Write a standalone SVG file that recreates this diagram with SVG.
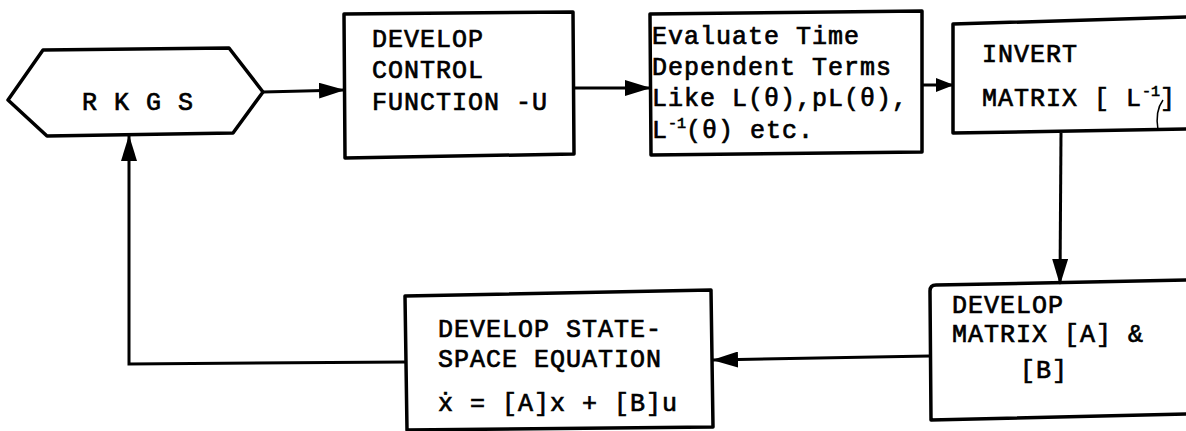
<svg xmlns="http://www.w3.org/2000/svg" width="1186" height="431" viewBox="0 0 1186 431">
  <style>
    .box { fill: none; stroke: #000; stroke-width: 3.5; stroke-linejoin: round; }
    .wire { fill: none; stroke: #000; stroke-width: 3; }
    .lbl { font-family: "Liberation Mono", "Courier New", "DejaVu Sans Mono", monospace; font-size: 25px; letter-spacing: 1px; fill: #000; stroke: #000; stroke-width: 0.7px; }
    .sup { font-size: 15px; letter-spacing: 0; }
  </style>
  <defs>
    <marker id="arrow" viewBox="0 0 26 16" refX="25" refY="8" markerWidth="26" markerHeight="16" markerUnits="userSpaceOnUse" orient="auto">
      <path d="M0,0 L26,8 L0,16 Z" fill="#000"/>
    </marker>
    <marker id="arrow-sm" viewBox="0 0 18 14" refX="17" refY="7" markerWidth="18" markerHeight="14" markerUnits="userSpaceOnUse" orient="auto">
      <path d="M0,0 L18,7 L0,14 Z" fill="#000"/>
    </marker>
  </defs>

  <!-- connectors -->
  <g id="connectors">
    <path class="wire" d="M263,92 L344,90" marker-end="url(#arrow)"/>
    <path class="wire" d="M574,88 L650,88" marker-end="url(#arrow)"/>
    <path class="wire" d="M922,85 L953,85" marker-end="url(#arrow-sm)"/>
    <path class="wire" d="M1061,133 L1060,284" marker-end="url(#arrow)"/>
    <path class="wire" d="M930,356 L713,360" marker-end="url(#arrow)"/>
    <path class="wire" d="M406,362 L129,364 L129,136" marker-end="url(#arrow)"/>
  </g>

  <!-- start / loop node -->
  <g id="rkgs">
    <path class="box" d="M8,100 L43,50 L229,48 L263,92 L233,133 L47,136 Z"/>
    <text class="lbl" x="82" y="110">R K G S</text>
  </g>

  <g id="control-function">
    <path class="box" d="M344,14 L573,12 L574,154 L345,158 Z"/>
    <text class="lbl" x="372" y="47">DEVELOP</text>
    <text class="lbl" x="372" y="78">CONTROL</text>
    <text class="lbl" x="372" y="110">FUNCTION -U</text>
  </g>

  <g id="time-terms">
    <path class="box" d="M650,14 L922,11 L922,152 L651,155 Z"/>
    <text class="lbl" x="652" y="44">Evaluate Time</text>
    <text class="lbl" x="652" y="75">Dependent Terms</text>
    <text class="lbl" x="652" y="106">Like L(θ),pL(θ),</text>
    <text class="lbl" x="652" y="138">L<tspan class="sup" dy="-10">-1</tspan><tspan dy="10">(θ) etc.</tspan></text>
  </g>

  <g id="invert-matrix">
    <path class="box" d="M1190,17 L953,24 L953,133 L1190,129"/>
    <text class="lbl" x="982" y="62">INVERT</text>
    <text class="lbl" x="982" y="106">MATRIX [ L<tspan class="sup" dy="-10">-1</tspan><tspan dy="10">]</tspan></text>
    <path d="M1158,130 C1156,118 1157,108 1163,100" fill="none" stroke="#000" stroke-width="1.5"/>
  </g>

  <g id="matrix-ab">
    <path class="box" d="M1190,280 L936,285 Q930,285 930,291 L931,420 L1190,414"/>
    <text class="lbl" x="952" y="313">DEVELOP</text>
    <text class="lbl" x="952" y="342">MATRIX [A] &amp;</text>
    <text class="lbl" x="1020" y="378">[B]</text>
  </g>

  <g id="state-space">
    <path class="box" d="M405,296 L711,290 L713,427 L407,430 Z"/>
    <text class="lbl" x="438" y="337">DEVELOP STATE-</text>
    <text class="lbl" x="438" y="367">SPACE EQUATION</text>
    <text class="lbl" x="438" y="411">ẋ = [A]x + [B]u</text>
  </g>
</svg>
